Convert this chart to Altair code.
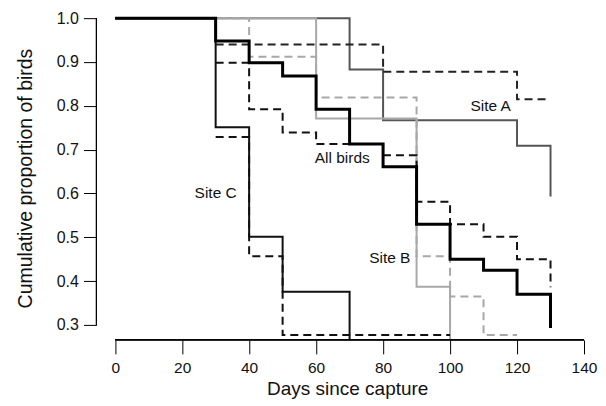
import altair as alt
import pandas as pd

# ---- data (days since capture, cumulative proportion) ----
ALL_T = [0, 30, 40, 50, 60, 70, 80, 90, 100, 110, 120, 130]
ALL_S = [1.0, 0.948, 0.898, 0.868, 0.792, 0.713, 0.661, 0.530, 0.450, 0.425, 0.370, 0.293]

SITE_A_T = [0, 70, 80, 120, 130]
SITE_A_S = [1.0, 0.883, 0.767, 0.709, 0.593]

SITE_B_T = [0, 60, 90, 100]
SITE_B_S = [1.0, 0.771, 0.387, 0.0]

SITE_C_T = [0, 30, 40, 50, 70]
SITE_C_S = [1.0, 0.751, 0.501, 0.376, 0.0]

DASH1_T = [30, 40, 50, 60, 80, 90, 100, 110, 120, 130]
DASH1_S = [0.898, 0.792, 0.739, 0.713, 0.687, 0.581, 0.530, 0.501, 0.450, 0.386]

DASH2_T = [30, 80, 120, 130]
DASH2_S = [0.940, 0.878, 0.815, 0.815]

DASH3_T = [30, 40, 50, 100]
DASH3_S = [0.729, 0.457, 0.277, 0.277]

DASH4_T = [0, 40, 60, 90, 100, 110, 120]
DASH4_S = [1.0, 0.912, 0.819, 0.457, 0.365, 0.277, 0.277]

LABELS = ["Site A", "All birds", "Site C", "Site B"]
LABEL_X = [112.1, 67.8, 30.0, 82.0]
LABEL_Y = [0.800, 0.682, 0.602, 0.453]

X_TICKS = [0, 20, 40, 60, 80, 100, 120, 140]
Y_TICKS = [0.3, 0.4, 0.5, 0.6, 0.7, 0.8, 0.9, 1.0]

# ---- layout ----
W, H = 488, 332
XDOM = [-5.6, 140]
YDOM = [0.2659, 1.0228]
FONT = "Liberation Sans"

x_scale = alt.Scale(domain=XDOM, nice=False, zero=False)
y_scale = alt.Scale(domain=YDOM, nice=False, zero=False)

x_axis = alt.Axis(
    values=X_TICKS, format="d", title="Days since capture",
    tickSize=14, tickColor="black", tickWidth=1,
    labelFont=FONT, labelFontSize=15.5, labelColor="#111", labelPadding=7,
    labelFlush=False, labelOverlap=False,
    titleFont=FONT, titleFontSize=19, titleFontWeight="normal", titleColor="#111",
    titleX=251, titleY=55, titleAlign="center", titleBaseline="alphabetic",
    domain=False, grid=False,
)
y_axis = alt.Axis(
    values=Y_TICKS, format=".1f", title="Cumulative proportion of birds",
    tickSize=13, tickColor="black", tickWidth=1,
    labelFont=FONT, labelFontSize=16, labelColor="#111", labelPadding=5,
    labelFlush=False, labelOverlap=False,
    titleFont=FONT, titleFontSize=19.5, titleFontWeight="normal", titleColor="#111",
    titleAngle=270, titleX=-65, titleY=170, titleAlign="center", titleBaseline="alphabetic",
    domain=False, grid=False,
)

x_enc = alt.X("day:Q", scale=x_scale, axis=x_axis, title="Days since capture")
y_enc = alt.Y("prop:Q", scale=y_scale, axis=y_axis, title="Cumulative proportion of birds")


def step(t, s, color, width, dash=None):
    df = pd.DataFrame({"day": t, "prop": s})
    kw = dict(interpolate="step-after", clip=True, color=color, strokeWidth=width)
    if dash:
        kw["strokeDash"] = dash
    return alt.Chart(df).mark_line(**kw).encode(x=x_enc, y=y_enc)


layers = [
    step(SITE_A_T, SITE_A_S, "#555555", 2),
    step(SITE_B_T, SITE_B_S, "#a8a8a8", 2),
    step(DASH4_T, DASH4_S, "#a8a8a8", 2, [8, 5]),
    step(DASH2_T, DASH2_S, "#222222", 2, [8, 5]),
    step(DASH3_T, DASH3_S, "#111111", 2, [8, 5]),
    step(DASH1_T, DASH1_S, "#111111", 2, [8, 5]),
    step(SITE_C_T, SITE_C_S, "#111111", 2),
    step(ALL_T, ALL_S, "#000000", 3),
]

labels_df = pd.DataFrame({"day": LABEL_X, "prop": LABEL_Y, "label": LABELS})
text = alt.Chart(labels_df).mark_text(
    font=FONT, fontSize=15.5, color="#111", align="center", baseline="middle"
).encode(x=x_enc, y=y_enc, text="label:N")

# R-style axis lines spanning first to last tick
x_line = alt.Chart(labels_df).mark_rule(color="black", strokeWidth=1).encode(
    x=alt.X(datum=X_TICKS[0], scale=x_scale, axis=x_axis, title="Days since capture"),
    x2=alt.X2(datum=X_TICKS[-1]),
    y=alt.value(H),
)
y_line = alt.Chart(labels_df).mark_rule(color="black", strokeWidth=1).encode(
    y=alt.Y(datum=Y_TICKS[0], scale=y_scale, axis=y_axis, title="Cumulative proportion of birds"),
    y2=alt.Y2(datum=Y_TICKS[-1]),
    x=alt.value(0),
)

chart = (
    alt.layer(*layers, text, x_line, y_line)
    .properties(
        width=W, height=H,
        autosize=alt.AutoSizeParams(type="none"),
        padding={"left": 88.5, "top": 0, "right": 14, "bottom": 64},
        background="white",
    )
    .configure_view(stroke=None)
)

chart.save("out.html", embed_options={"renderer": "svg", "actions": False})
